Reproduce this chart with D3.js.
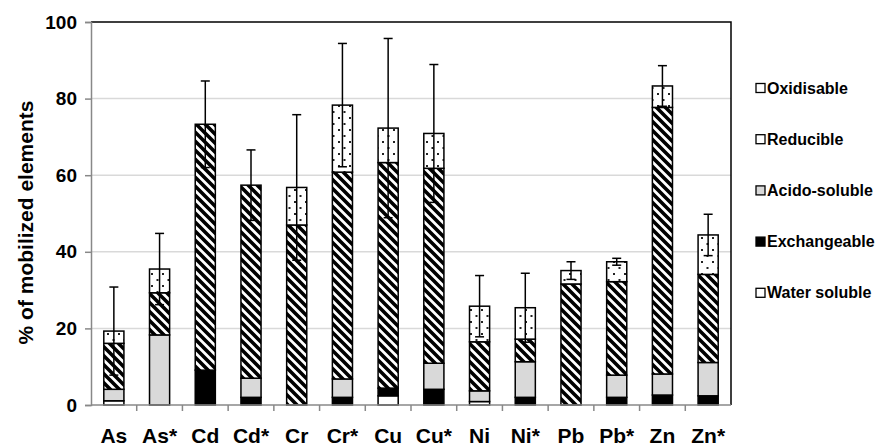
<!DOCTYPE html>
<html>
<head>
<meta charset="utf-8">
<script src="https://cdn.jsdelivr.net/npm/d3@7"></script>
<style>
  body { margin: 0; background: #fff; }
  svg { display: block; font-family: "Liberation Sans", Arial, sans-serif; font-weight: bold; }
</style>
</head>
<body>
<svg id="chart" width="877" height="447"></svg>
<script>
// data (% of mobilized elements)
const categories   = ["As","As*","Cd","Cd*","Cr","Cr*","Cu","Cu*","Ni","Ni*","Pb","Pb*","Zn","Zn*"];
const waterSoluble = [1.1, 0,    0,    0,    0,    0,    2.4,  0,    0.9,  0,    0,    0,    0,    0];
const exchangeable = [0,   0,    9.1,  2.0,  0,    2.0,  2.0,  4.1,  0,    2.0,  0,    2.0,  2.6,  2.4];
const acidoSoluble = [3.0, 18.3, 0,    5.0,  0,    4.8,  0,    6.8,  2.8,  9.3,  0,    5.8,  5.5,  8.7];
const reducible    = [12.0,11.0, 64.2, 50.4, 47.0, 54.0, 58.9, 50.9, 12.8, 5.9,  31.6, 24.4, 69.6, 23.0];
const oxidisable   = [3.2, 6.2,  0,    0,    9.8,  17.5, 9.0,  9.1,  9.3,  8.2,  3.5,  5.2,  5.6,  10.3];
const errors       = [11.5,9.3,  11.3, 9.2,  19.0, 16.1, 23.4, 18.0, 8.0,  9.0,  2.3,  0.9,  5.3,  5.4];
const yTicks = [0, 20, 40, 60, 80, 100];

const keys = ["Water soluble","Exchangeable","Acido-soluble","Reducible","Oxidisable"];
const legendOrder = ["Oxidisable","Reducible","Acido-soluble","Exchangeable","Water soluble"];

const PAD = {LEFT:91, RIGHT:146, TOP:22, BOTTOM:42};
const W = 877, H = 447;

let table = categories.map(function(c, i){
  return {cat:c, "Water soluble":waterSoluble[i], "Exchangeable":exchangeable[i],
          "Acido-soluble":acidoSoluble[i], "Reducible":reducible[i], "Oxidisable":oxidisable[i], err:errors[i]};
});

const svg = d3.select("#chart");

// patterns
let defs = svg.append("defs");
let hatch = defs.append("pattern").attr("id","hatch")
  .attr("patternUnits","userSpaceOnUse").attr("width",9).attr("height",9);
hatch.append("rect").attr("width",9).attr("height",9).attr("fill","#fff");
hatch.append("path").attr("d","M-2,-2 L11,11 M-2,7 L2,11 M7,-2 L11,2")
  .attr("stroke","#000").attr("stroke-width",3.6);

let dots = defs.append("pattern").attr("id","dots")
  .attr("patternUnits","userSpaceOnUse").attr("width",11).attr("height",12);
dots.append("rect").attr("width",11).attr("height",12).attr("fill","#fff");
dots.append("rect").attr("x",2.5).attr("y",3).attr("width",2).attr("height",2).attr("fill","#222");
dots.append("rect").attr("x",8).attr("y",9).attr("width",2).attr("height",2).attr("fill","#222");

const fills = {
  "Water soluble":"#fff",
  "Exchangeable":"#000",
  "Acido-soluble":"#d9d9d9",
  "Reducible":"url(#hatch)",
  "Oxidisable":"url(#dots)"
};
const legendFills = {
  "Water soluble":"#fff", "Exchangeable":"#000", "Acido-soluble":"#d9d9d9",
  "Reducible":"#fff", "Oxidisable":"#fff"
};

// scales
let x = d3.scaleBand().domain(categories)
  .range([PAD.LEFT, W - PAD.RIGHT]).paddingInner(0.56).paddingOuter(0.28);
let y = d3.scaleLinear().domain([0,100]).range([H - PAD.BOTTOM, PAD.TOP]);

// gridlines
svg.append("g").selectAll("line")
  .data(yTicks.filter(d => d > 0 && d < 100))
  .join("line")
  .attr("x1",PAD.LEFT).attr("x2",W - PAD.RIGHT)
  .attr("y1",d => y(d)).attr("y2",d => y(d))
  .attr("stroke","#d9d9d9").attr("stroke-width",1.5);

// frame top / right
svg.append("path")
  .attr("d","M"+PAD.LEFT+","+y(100)+" H"+(W-PAD.RIGHT)+" V"+y(0))
  .attr("fill","none").attr("stroke","#000").attr("stroke-width",1.5);

// y axis
let yaxis = d3.axisLeft(y).tickValues(yTicks).tickSize(6).tickPadding(8);
let gy = svg.append("g").attr("transform","translate("+PAD.LEFT+",0)").call(yaxis);
gy.select(".domain").attr("stroke","#888").attr("stroke-width",1.5);
gy.selectAll(".tick line").attr("stroke","#888").attr("stroke-width",1.5);
gy.selectAll("text").attr("font-size",19).attr("font-weight","bold")
  .attr("font-family","Liberation Sans, Arial, sans-serif").attr("fill","#000");

// stacked bars
let series = d3.stack().keys(keys)(table);
svg.append("g").selectAll("g")
  .data(series)
  .join("g")
  .attr("fill", d => fills[d.key])
  .selectAll("rect")
  .data(d => d.filter(s => s[1] - s[0] > 0))
  .join("rect")
  .attr("x", d => x(d.data.cat))
  .attr("width", x.bandwidth())
  .attr("y", d => y(d[1]))
  .attr("height", d => y(d[0]) - y(d[1]))
  .attr("stroke","#000").attr("stroke-width",1.5);

// error bars
let total = d => waterSoluble[d] + exchangeable[d] + acidoSoluble[d] + reducible[d] + oxidisable[d];
let eb = svg.append("g").attr("stroke","#000").attr("stroke-width",1.5);
table.forEach(function(d, i){
  let cx = x(d.cat) + x.bandwidth()/2;
  let t = total(i);
  eb.append("line").attr("x1",cx).attr("x2",cx).attr("y1",y(t - d.err)).attr("y2",y(t + d.err));
  eb.append("line").attr("x1",cx-4.5).attr("x2",cx+4.5).attr("y1",y(t + d.err)).attr("y2",y(t + d.err));
  eb.append("line").attr("x1",cx-4.5).attr("x2",cx+4.5).attr("y1",y(t - d.err)).attr("y2",y(t - d.err));
});

// x axis
let xaxis = d3.axisBottom(x).tickSize(0).tickPadding(23);
let gx = svg.append("g").attr("transform","translate(0,"+y(0)+")").call(xaxis);
gx.select(".domain").remove();
gx.selectAll("text").attr("font-size",21).attr("font-weight","bold")
  .attr("font-family","Liberation Sans, Arial, sans-serif").attr("fill","#000");
svg.append("line").attr("x1",PAD.LEFT).attr("x2",W-PAD.RIGHT)
  .attr("y1",y(0)).attr("y2",y(0)).attr("stroke","#888").attr("stroke-width",1.5);
svg.append("g").selectAll("line")
  .data(categories.slice(1))
  .join("line")
  .attr("x1",d => x(d) - (x.step() - x.bandwidth())/2)
  .attr("x2",d => x(d) - (x.step() - x.bandwidth())/2)
  .attr("y1",y(0)).attr("y2",y(0)+6)
  .attr("stroke","#888").attr("stroke-width",1.5);

// y title
svg.append("text")
  .attr("transform","translate(33,"+(PAD.TOP + (H-PAD.BOTTOM-PAD.TOP)/2 + 9)+") rotate(-90)")
  .attr("text-anchor","middle")
  .attr("font-size",21)
  .text("% of mobilized elements");

// legend
let lg = svg.append("g").selectAll("g")
  .data(legendOrder)
  .join("g")
  .attr("transform",(d,i) => "translate(756,"+(88 + i*51.2)+")");
lg.append("rect").attr("x",0).attr("y",-4.5).attr("width",9).attr("height",9)
  .attr("fill",d => legendFills[d]).attr("stroke","#000").attr("stroke-width",1.3);
lg.append("text").attr("x",11).attr("dy","0.35em").attr("font-size",16).text(d => d);
</script>
</body>
</html>
